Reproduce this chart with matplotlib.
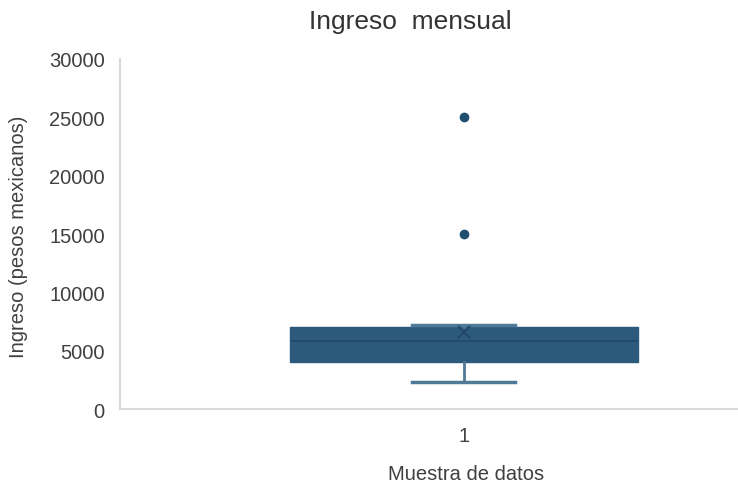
import matplotlib
matplotlib.use("Agg")
import matplotlib.pyplot as plt

# Summary statistics of monthly income (pesos mexicanos)
categories = ["1"]
whisker_low = [2300]
q1 = [4000]
median = [5800]
q3 = [7050]
whisker_high = [7200]
mean = [6600]
outliers = [[15000, 25000]]
y_ticks = [0, 5000, 10000, 15000, 20000, 25000, 30000]

box_color = "#2C5A7C"
line_color = "#4F7A97"
text_color = "#404040"

plt.rcParams["font.family"] = ["Liberation Sans", "DejaVu Sans"]

fig = plt.figure(figsize=(7.38, 4.85), dpi=100)
ax = fig.add_axes([0.1626, 0.1546, 0.932, 0.7217])

stats = []
for i, lab in enumerate(categories):
    stats.append(dict(label=lab, whislo=whisker_low[i], q1=q1[i], med=median[i],
                      q3=q3[i], whishi=whisker_high[i], mean=mean[i],
                      fliers=outliers[i]))

ax.bxp(stats, positions=[1], widths=0.507, capwidths=0.15, patch_artist=True,
       showmeans=True, showfliers=True,
       boxprops=dict(facecolor=box_color, edgecolor=box_color, linewidth=1),
       medianprops=dict(color="#23486A", linewidth=1.2),
       whiskerprops=dict(color=line_color, linewidth=2),
       capprops=dict(color=line_color, linewidth=2.5),
       meanprops=dict(marker="x", markeredgecolor="#23486A", markersize=9,
                      markeredgewidth=1.5),
       flierprops=dict(marker="o", markerfacecolor="#1F4E70",
                       markeredgecolor="#1F4E70", markersize=6))

ax.set_xlim(0.5, 1.5)
ax.set_ylim(0, 30000)
ax.set_yticks(y_ticks)
ax.set_yticklabels([str(t) for t in y_ticks])

for s in ["top", "right"]:
    ax.spines[s].set_visible(False)
for s in ["left", "bottom"]:
    ax.spines[s].set_color("#D9D9D9")
    ax.spines[s].set_linewidth(1.5)

ax.tick_params(axis="both", length=0, labelsize=14.5, colors=text_color)
ax.tick_params(axis="y", pad=11)
ax.tick_params(axis="x", pad=12)

fig.text(410 / 738, 1 - 22 / 485, "Ingreso  mensual", ha="center", va="center",
         fontsize=19, color="#333333")
fig.text(466 / 738, 1 - 475 / 485, "Muestra de datos", ha="center", va="center",
         fontsize=14.5, color=text_color)
fig.text(19 / 738, 1 - 237 / 485, "Ingreso (pesos mexicanos)", ha="center",
         va="center", rotation=90, fontsize=14.5, color=text_color)

fig.savefig("out.png", dpi=100)
